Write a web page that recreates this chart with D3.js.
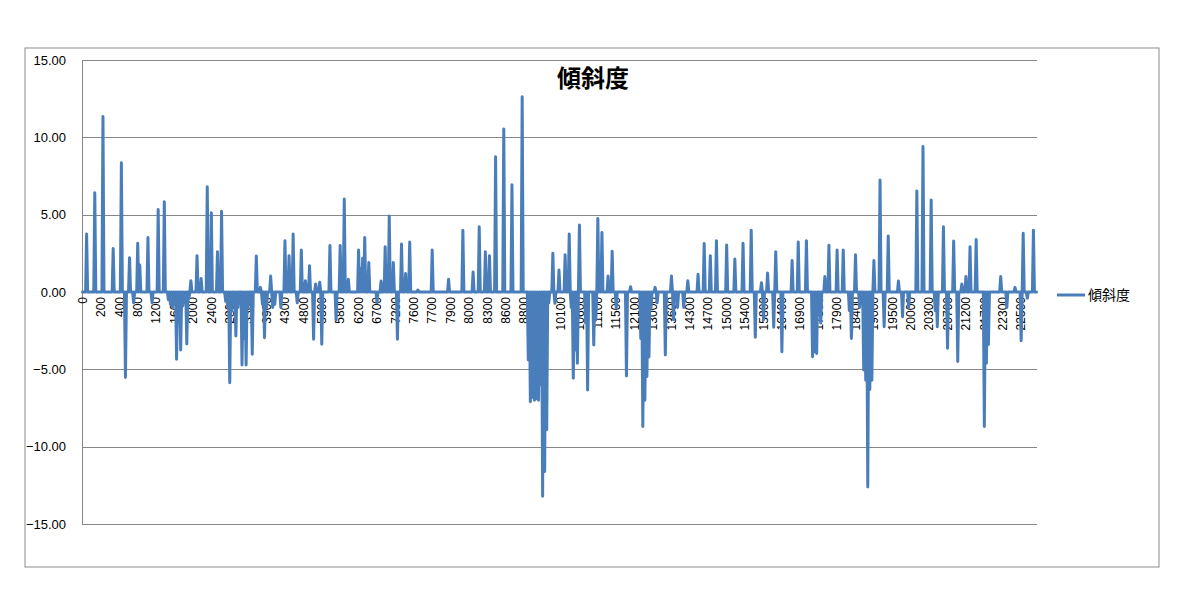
<!DOCTYPE html>
<html>
<head>
<meta charset="utf-8">
<script src="https://cdn.jsdelivr.net/npm/d3@7"></script>
<style>
  body { margin: 0; background: #ffffff; }
  svg { display: block; }
</style>
</head>
<body>
<svg id="chart" width="1195" height="607"></svg>
<script>
// ---------- DATA ----------
const chartTitle = "傾斜度";
const seriesName = "傾斜度";

// x-axis tick labels (one label every 18 categories)
const tickLabels = ["0","200","400","800","1200","1600","2000","2400","2800","3300","3900","4300","4800","5300","5800","6200","6700","7200","7600","7700","7900","8000","8300","8600","8800","9400","10100","10600","11100","11500","12100","13000","13600","14300","14700","15000","15400","15800","16400","16900","17500","17900","18400","19000","19500","20000","20300","20700","21200","21700","22300","22500"];
const labelEvery = 18;
const categoryCount = 934;

// y-axis tick values
const yTicks = [-15, -10, -5, 0, 5, 10, 15];

// readings that differ from the zero baseline: category index and value
const readingIndex = [4,12,20,30,38,42,46,50,54,56,64,68,74,80,84,86,88,90,92,94,96,98,100,102,104,106,112,116,122,126,132,136,140,142,144,146,148,150,152,156,158,160,162,166,170,174,176,178,180,184,186,188,194,198,202,206,210,214,218,222,226,228,232,234,242,248,252,256,260,270,272,274,276,280,288,292,296,300,304,308,312,316,320,328,342,358,372,382,388,394,398,404,412,420,430,436,438,440,442,444,446,448,450,452,454,456,460,462,466,472,476,478,480,482,484,486,492,494,500,502,504,508,514,518,522,532,536,546,548,550,552,554,556,560,562,570,576,578,582,588,592,602,608,614,620,630,638,646,654,658,664,666,670,676,678,684,694,700,708,714,716,718,722,726,730,738,744,750,752,756,760,764,766,768,770,772,774,780,784,788,798,802,808,816,822,830,834,836,842,846,852,856,860,864,868,874,882,884,886,898,904,912,918,920,924,930];
const readingValue = [3.75,6.42,11.34,2.82,8.36,-5.52,2.22,-0.7,3.15,1.75,3.53,-0.7,5.34,5.84,-0.5,-0.8,-1.0,-0.6,-4.35,-0.8,-3.75,-0.9,-0.7,-3.36,-0.4,0.73,2.35,0.88,6.81,5.13,2.6,5.22,-0.6,-1.0,-5.86,-1.2,-0.5,-2.85,-1.0,-4.72,-3.0,-4.72,-1.0,-4.03,2.33,0.3,-0.8,-2.95,-1.0,1.03,-1.0,-0.8,-1.0,3.32,2.35,3.75,-0.7,2.72,0.73,1.7,-3.06,0.52,0.63,-3.38,3.0,-1.8,3.0,6.01,0.82,2.72,1.5,2.18,3.53,1.9,-0.7,0.71,2.93,4.91,1.9,-3.06,3.1,1.2,3.23,0.13,2.72,0.82,4.0,1.3,4.22,2.6,2.35,8.75,10.54,6.94,12.63,-4.4,-7.1,-6.8,-7.0,-6.9,-7.0,-6.0,-13.2,-11.6,-8.9,-0.7,2.5,-0.73,1.42,2.41,3.75,-1.0,-5.58,-3.75,-4.6,4.33,-2.0,-6.34,-3.43,-1.8,4.76,3.84,1.03,2.63,-1.0,-5.43,0.34,-3.0,-8.7,-7.0,-5.47,-4.2,-1.0,0.3,-0.7,-4.07,1.03,-1.8,-1.0,-1.0,0.73,1.14,3.13,2.35,3.32,3.04,2.13,3.15,4.0,-2.93,0.6,-1.8,1.23,-2.28,2.6,-3.86,2.03,3.23,3.32,-4.18,-3.86,-3.97,-2.0,1.0,3.02,2.72,2.72,-1.2,-3.0,2.41,-1.0,-5.04,-5.7,-12.6,-6.3,-5.7,2.03,7.24,-2.24,3.62,0.71,-1.6,-1.0,6.53,9.4,5.95,-1.2,-2.24,4.22,-3.64,3.3,-4.5,0.52,1.0,2.93,3.4,-8.7,-4.6,-3.4,1.0,-1.0,0.3,-3.15,3.8,-0.4,4.0];

// ---------- BUILD SERIES ----------
const series = d3.range(categoryCount).map(i => ({ i, v: 0 }));
readingIndex.forEach((idx, k) => { series[idx].v = readingValue[k]; });

// ---------- LAYOUT ----------
const svg = d3.select("#chart");
const plot = { left: 82, right: 1037, top: 60, bottom: 524 };
const lineColor = "#4a7ebb";
const gridColor = "#868686";

svg.append("rect").attr("width", 1195).attr("height", 607).attr("fill", "#ffffff");
svg.append("rect")
  .attr("x", 25).attr("y", 48).attr("width", 1134).attr("height", 519)
  .attr("fill", "#ffffff").attr("stroke", "#8c8c8c").attr("stroke-width", 1);

const x = d3.scaleBand()
  .domain(d3.range(categoryCount))
  .range([plot.left, plot.right]);
const xc = i => x(i) + x.bandwidth() / 2;

const y = d3.scaleLinear().domain([-15, 15]).range([plot.bottom, plot.top]);

// y labels
const yAxis = d3.axisLeft(y).tickValues(yTicks).tickSize(0).tickFormat(d3.format(".2f"));
const gy = svg.append("g").attr("transform", `translate(${plot.left},0)`).call(yAxis);
gy.select(".domain").remove();
gy.selectAll("text")
  .attr("x", -16)
  .attr("font-family", "Liberation Sans, Arial, sans-serif")
  .attr("font-size", 13).attr("fill", "#000");

// gridlines
svg.append("g").selectAll("line").data(yTicks).join("line")
  .attr("x1", plot.left).attr("x2", plot.right)
  .attr("y1", d => Math.round(y(d)) + 0.5).attr("y2", d => Math.round(y(d)) + 0.5)
  .attr("stroke", gridColor).attr("stroke-width", 1);

// vertical axis line
svg.append("line")
  .attr("x1", plot.left + 0.5).attr("x2", plot.left + 0.5)
  .attr("y1", plot.top).attr("y2", plot.bottom)
  .attr("stroke", gridColor).attr("stroke-width", 1);

// x axis at zero with rotated labels
const tickIdx = tickLabels.map((_, j) => j * labelEvery);
const xAxis = d3.axisBottom(x).tickValues(tickIdx).tickSize(0)
  .tickFormat(i => tickLabels[i / labelEvery]);
const gx = svg.append("g").attr("transform", `translate(0,${y(0)})`).call(xAxis);
gx.select(".domain").attr("stroke", gridColor);
gx.selectAll("text")
  .attr("font-family", "Liberation Sans, Arial, sans-serif")
  .attr("font-size", 12).attr("fill", "#000")
  .attr("text-anchor", "end")
  .attr("transform", "rotate(-90)")
  .attr("x", -5).attr("y", 0).attr("dy", "0.35em");

// series line
const line = d3.line().x(d => xc(d.i)).y(d => y(d.v));
svg.append("path").datum(series)
  .attr("d", line)
  .attr("fill", "none")
  .attr("stroke", lineColor)
  .attr("stroke-width", 3)
  .attr("stroke-linejoin", "round")
  .attr("stroke-linecap", "round");

// title
svg.append("text")
  .attr("x", 593).attr("y", 87)
  .attr("text-anchor", "middle")
  .attr("font-family", "Noto Sans CJK JP, sans-serif")
  .attr("font-size", 24).attr("font-weight", "bold")
  .text(chartTitle);

// legend
svg.append("line")
  .attr("x1", 1057).attr("x2", 1085).attr("y1", 295).attr("y2", 295)
  .attr("stroke", lineColor).attr("stroke-width", 3);
svg.append("text")
  .attr("x", 1088).attr("y", 295).attr("dy", "0.35em")
  .attr("font-family", "Noto Sans CJK JP, sans-serif")
  .attr("font-size", 14)
  .text(seriesName);
</script>
</body>
</html>
